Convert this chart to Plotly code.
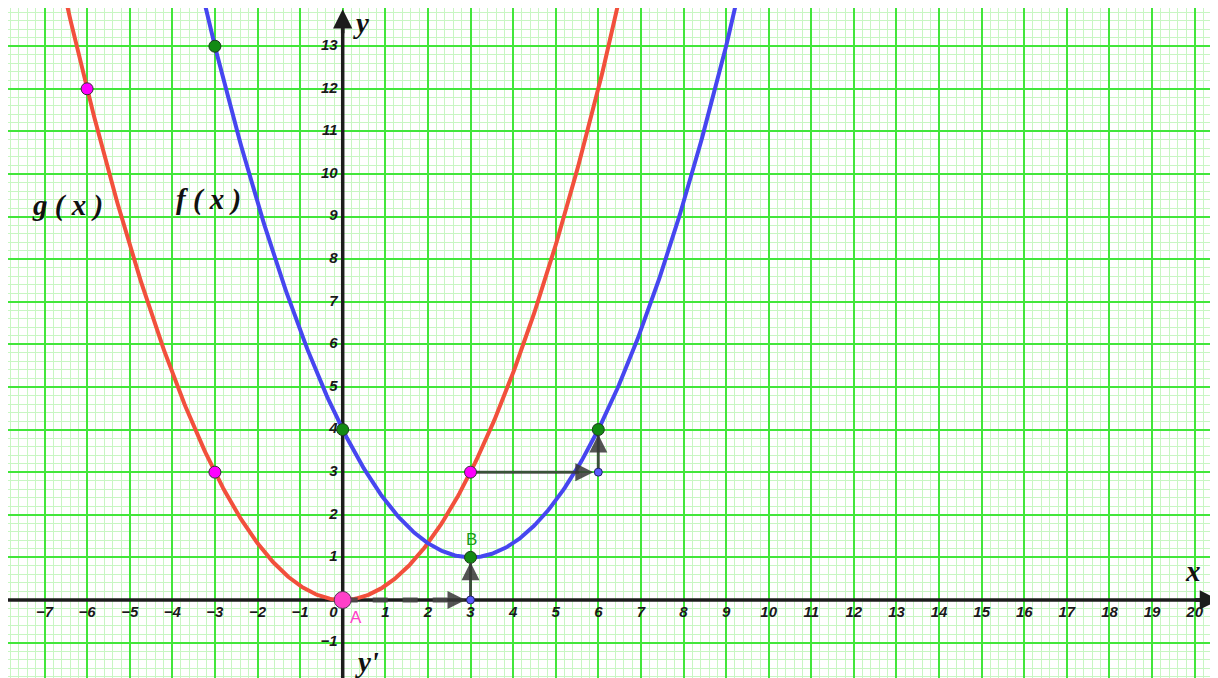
import numpy as np
import plotly.graph_objects as go

# tick values shown on the axes
x_ticks = [v for v in range(-7, 21) if v != 0]
y_ticks = [v for v in range(-1, 14) if v != 0]

# g(x) = a*x^2 ; f(x) = a*(x-h)^2 + k  (f is g shifted by (h, k))
a_coef = 1 / 3
shift = (3, 1)

# marked points
g_pts_x = [-6, -3, 3]
g_pts_y = [12, 3, 3]
f_pts_x = [-3, 0, 3, 6]
f_pts_y = [13, 4, 1, 4]
A = (0, 0)
B = (3, 1)
helper_x = [3, 6]
helper_y = [0, 3]

# translation arrows (start x, start y, end x, end y)
arrows = [(0, 0, 3, 0), (3, 0, 3, 1), (3, 3, 6, 3), (6, 3, 6, 4)]

# the page has an 8px body margin, so the figure starts at (8, 8)
x_range = [-7.857, 20.735]
y_range = [-2.02, 13.897]
x_end = 20.57
y_end = 13.87

xs = np.linspace(-8, 21, 800)
g_y = a_coef * xs ** 2
f_y = a_coef * (xs - shift[0]) ** 2 + shift[1]

axis_col = "#1c1c1c"
arrow_col = "rgba(55,55,55,0.85)"
tick_font = dict(family="Liberation Sans", size=15, color="#1a1a1a",
                 weight="bold", style="italic")
math_font = dict(family="Liberation Serif", size=29, color="#111111",
                 weight="bold", style="italic")

fig = go.Figure()

# axes
fig.add_trace(go.Scatter(x=[x_range[0], x_end - 0.2], y=[0, 0], mode="lines",
                         line=dict(color=axis_col, width=3.5), hoverinfo="skip"))
fig.add_trace(go.Scatter(x=[0, 0], y=[y_range[0], y_end - 0.2], mode="lines",
                         line=dict(color=axis_col, width=3.5), hoverinfo="skip"))

# tick labels
fig.add_trace(go.Scatter(x=x_ticks, y=[-0.32] * len(x_ticks), mode="text",
                         text=[str(v).replace("-", "−") for v in x_ticks],
                         textfont=tick_font, hoverinfo="skip"))
fig.add_trace(go.Scatter(x=[-0.12] * len(y_ticks), y=y_ticks, mode="text",
                         text=[str(v).replace("-", "−") for v in y_ticks],
                         textposition="middle left",
                         textfont=tick_font, hoverinfo="skip"))
fig.add_trace(go.Scatter(x=[-0.12], y=[-0.32], mode="text", text=["0"],
                         textposition="middle left",
                         textfont=tick_font, hoverinfo="skip"))

# curves
fig.add_trace(go.Scatter(x=xs, y=g_y, mode="lines",
                         line=dict(color="#f2503c", width=4), hoverinfo="skip"))
fig.add_trace(go.Scatter(x=xs, y=f_y, mode="lines",
                         line=dict(color="#4646f0", width=4), hoverinfo="skip"))

# dashed part of the first translation arrow
x0, y0, x1, y1 = arrows[0]
fig.add_trace(go.Scatter(x=[x0, x1 - 0.3], y=[y0, y1], mode="lines",
                         line=dict(color="rgba(70,70,70,0.9)", width=5, dash="dash"),
                         hoverinfo="skip"))
for x0, y0, x1, y1 in arrows[1:]:
    fig.add_trace(go.Scatter(x=[x0, x1 - 0.15 * (x1 - x0)], y=[y0, y1 - 0.15 * (y1 - y0)],
                             mode="lines", line=dict(color=arrow_col, width=3),
                             hoverinfo="skip"))

# points
fig.add_trace(go.Scatter(x=helper_x, y=helper_y, mode="markers",
                         marker=dict(size=8, color="#5a5aff",
                                     line=dict(color="#222266", width=1))))
fig.add_trace(go.Scatter(x=g_pts_x, y=g_pts_y, mode="markers",
                         marker=dict(size=12, color="#ff00ff",
                                     line=dict(color="#333333", width=1))))
fig.add_trace(go.Scatter(x=f_pts_x, y=f_pts_y, mode="markers",
                         marker=dict(size=12, color="#138a13",
                                     line=dict(color="#1d3d1d", width=1))))
fig.add_trace(go.Scatter(x=[A[0]], y=[A[1]], mode="markers",
                         marker=dict(size=17, color="#ff40c8",
                                     line=dict(color="#553355", width=1))))

annotations = []
# arrow heads of the translations
for x0, y0, x1, y1 in arrows:
    annotations.append(dict(x=x1, y=y1, ax=x1 - 0.5 * np.sign(x1 - x0),
                            ay=y1 - 0.5 * np.sign(y1 - y0),
                            xref="x", yref="y", axref="x", ayref="y",
                            showarrow=True, arrowhead=2, arrowsize=1.2,
                            arrowwidth=3, arrowcolor=arrow_col, standoff=5, text=""))
# axis arrow heads
annotations.append(dict(x=x_end, y=0, ax=x_end - 0.6, ay=0,
                        xref="x", yref="y", axref="x", ayref="y", showarrow=True,
                        arrowhead=2, arrowsize=1.1, arrowwidth=3.5,
                        arrowcolor=axis_col, text=""))
annotations.append(dict(x=0, y=y_end, ax=0, ay=y_end - 0.6,
                        xref="x", yref="y", axref="x", ayref="y", showarrow=True,
                        arrowhead=2, arrowsize=1.1, arrowwidth=3.5,
                        arrowcolor=axis_col, text=""))

# text labels
labels = [
    ("g ( x )", -6.45, 9.27, math_font),
    ("f ( x )", -3.15, 9.39, math_font),
    ("y", 0.42, 13.55, math_font),
    ("x", 19.97, 0.68, math_font),
    ("y'", 0.58, -1.45, math_font),
    ("A", 0.32, -0.42, dict(family="Liberation Sans", size=17, color="#ff40c8")),
    ("B", 3.02, 1.43, dict(family="Liberation Sans", size=17, color="#1a9a1a")),
]
for txt, lx, ly, fnt in labels:
    annotations.append(dict(x=lx, y=ly, xref="x", yref="y", text=txt,
                            showarrow=False, font=fnt))

fig.update_layout(
    width=1218, height=678,
    margin=dict(l=0, r=0, t=0, b=0),
    paper_bgcolor="white", plot_bgcolor="white",
    showlegend=False,
    annotations=annotations,
)
grid_major = "#42e63a"
grid_minor = "#c8f6c3"
fig.update_xaxes(range=x_range, dtick=1, tick0=0, showgrid=True, gridcolor=grid_major,
                 gridwidth=1.6, zeroline=False, showticklabels=False, ticks="",
                 minor=dict(dtick=0.2, tick0=0, showgrid=True, gridcolor=grid_minor,
                            gridwidth=1))
fig.update_yaxes(range=y_range, dtick=1, tick0=0, showgrid=True, gridcolor=grid_major,
                 gridwidth=1.6, zeroline=False, showticklabels=False, ticks="",
                 minor=dict(dtick=0.2, tick0=0, showgrid=True, gridcolor=grid_minor,
                            gridwidth=1))

fig.write_html("out.html")
